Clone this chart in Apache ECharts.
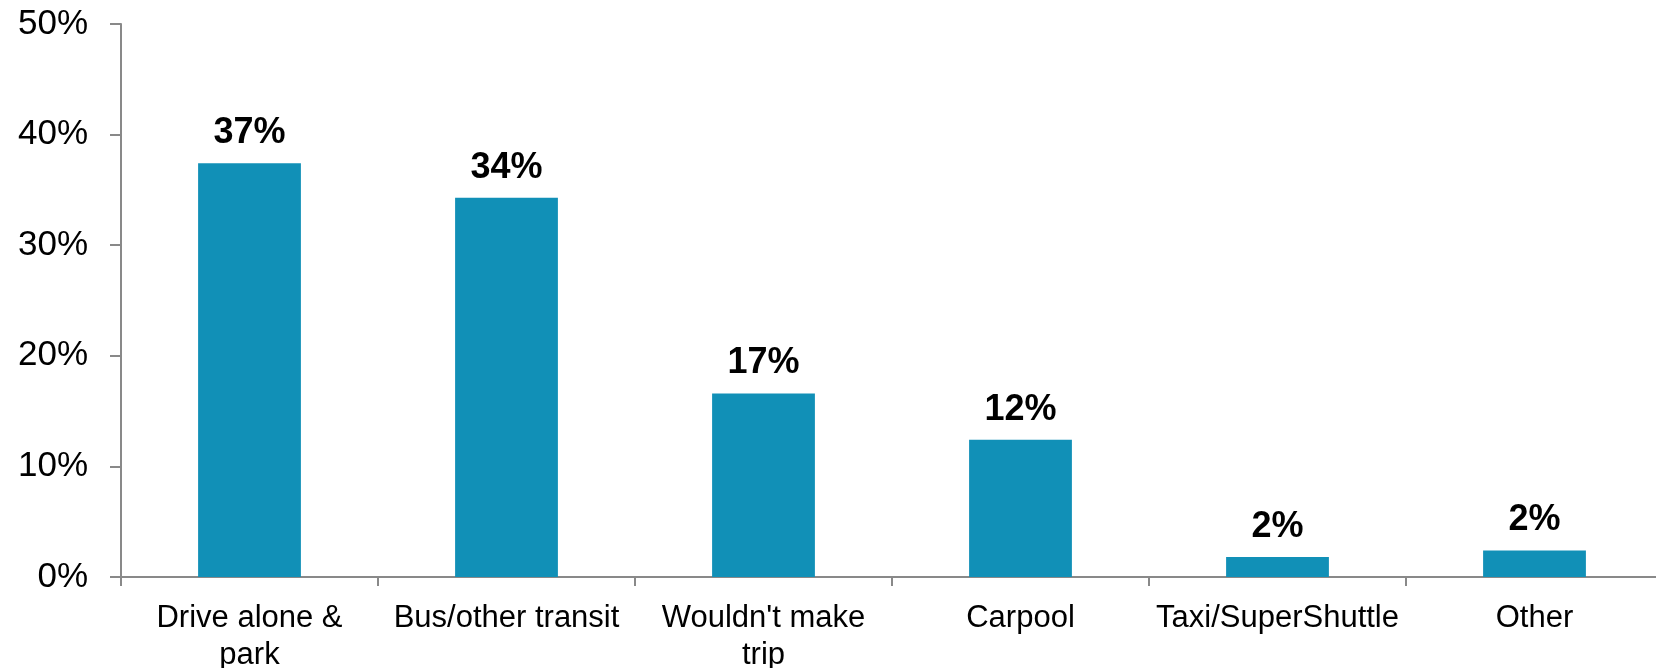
<!DOCTYPE html>
<html>
<head>
<meta charset="utf-8">
<title>Mode choice</title>
<script src="https://cdn.jsdelivr.net/npm/echarts@6/dist/echarts.min.js"></script>
<style>
  html, body { margin: 0; padding: 0; background: #ffffff; }
  #chart { width: 1656px; height: 668px; }
</style>
</head>
<body>
<div id="chart"></div>
<script>
// Travel mode categories (line breaks as they wrap under the axis)
const categories = [
  'Drive alone &\npark',
  'Bus/other transit',
  "Wouldn't make\ntrip",
  'Carpool',
  'Taxi/SuperShuttle',
  'Other'
];

// Share of respondents, percent
const shares = [37.4, 34.3, 16.6, 12.4, 1.8, 2.4];

// Value axis ticks
const yMin = 0;
const yMax = 50;
const yStep = 10;

const chart = echarts.init(document.getElementById('chart'), null, { renderer: 'canvas' });

const axisGrey = '#898989';
const font = 'Arial, "Liberation Sans", sans-serif';

chart.setOption({
  animation: false,
  backgroundColor: '#ffffff',
  grid: {
    left: 121,
    top: 24,
    width: 1542,
    bottom: 91,
    containLabel: false,
    outerBoundsMode: 'none'
  },
  xAxis: {
    type: 'category',
    data: categories,
    axisLine: { show: true, lineStyle: { color: axisGrey, width: 2 } },
    axisTick: { show: true, alignWithLabel: false, length: 9, lineStyle: { color: axisGrey, width: 2 } },
    axisLabel: {
      interval: 0,
      margin: 23,
      color: '#000000',
      fontFamily: font,
      fontSize: 31,
      lineHeight: 37
    },
    splitLine: { show: false }
  },
  yAxis: {
    type: 'value',
    min: yMin,
    max: yMax,
    interval: yStep,
    axisLine: { show: true, lineStyle: { color: axisGrey, width: 2 } },
    axisTick: { show: true, length: 11, lineStyle: { color: axisGrey, width: 2 } },
    axisLabel: {
      margin: 33,
      color: '#000000',
      fontFamily: font,
      fontSize: 35,
      formatter: '{value}%'
    },
    splitLine: { show: false }
  },
  series: [{
    type: 'bar',
    data: shares,
    barCategoryGap: '60%',
    itemStyle: { color: '#1190B7' },
    label: {
      show: true,
      position: 'top',
      distance: 12,
      color: '#000000',
      fontFamily: font,
      fontWeight: 'bold',
      fontSize: 36,
      formatter: p => Math.round(p.value) + '%'
    }
  }]
});
</script>
</body>
</html>
